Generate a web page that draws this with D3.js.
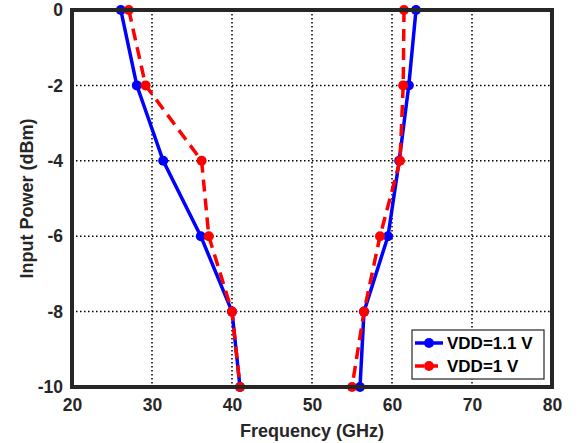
<!DOCTYPE html>
<html lang="en">
<head>
<meta charset="UTF-8">
<title>Input Power vs Frequency</title>
<script src="https://d3js.org/d3.v7.min.js"></script>
<style>
  body { margin: 0; background: #fff; font-family: "Liberation Sans", Arial, sans-serif; }
  .tick text { font-size: 17.5px; font-weight: bold; fill: #262626; }
  .lbl { font-size: 18px; font-weight: bold; fill: #262626; }
  .leg { font-size: 17px; font-weight: bold; fill: #000; }
</style>
</head>
<body>
<svg id="chart" width="579" height="443"></svg>
<script>
// input power levels (dBm)
const powerLevels = [0, -2, -4, -6, -8, -10];
// VDD = 1.1 V, lower and upper frequency edges (GHz)
const vdd11Low  = [26.1, 28.1, 31.4, 36.1, 40.0, 41.0];
const vdd11High = [63.0, 62.1, 60.9, 59.5, 56.5, 56.0];
// VDD = 1 V
const vdd1Low  = [27.1, 29.2, 36.2, 37.1, 40.0, 41.0];
const vdd1High = [61.5, 61.4, 61.0, 58.5, 56.5, 55.0];
const xTicks = [20, 30, 40, 50, 60, 70, 80];
const yTicks = [0, -2, -4, -6, -8, -10];

const svg = d3.select("#chart");
const margin = {top: 10, right: 27, bottom: 56, left: 72};
const W = 579, H = 443;
const x = d3.scaleLinear().domain([20, 80]).range([margin.left, W - margin.right]);
const y = d3.scaleLinear().domain([-10, 0]).range([H - margin.bottom, margin.top]);

// grid
const grid = svg.append("g");
grid.selectAll(".gx").data(xTicks.slice(1, -1)).enter().append("line")
  .attr("x1", d => x(d)).attr("x2", d => x(d))
  .attr("y1", y(0)).attr("y2", y(-10))
  .attr("stroke", "#000").attr("stroke-width", 1.5).attr("stroke-dasharray", "1.5,2.5");
grid.selectAll(".gy").data(yTicks.slice(1, -1)).enter().append("line")
  .attr("y1", d => y(d)).attr("y2", d => y(d))
  .attr("x1", x(20)).attr("x2", x(80))
  .attr("stroke", "#000").attr("stroke-width", 1.5).attr("stroke-dasharray", "1.5,2.5");

const series = [
  {name: "VDD=1.1 V", color: "#0000ff", dash: null, branches: [vdd11Low, vdd11High]},
  {name: "VDD=1 V", color: "#ff0000", dash: "12,7", branches: [vdd1Low, vdd1High]}
];

const line = d3.line().x(d => x(d[0])).y(d => y(d[1]));

series.forEach(s => {
  s.branches.forEach(b => {
    const pts = b.map((v, i) => [v, powerLevels[i]]);
    svg.append("path").datum(pts)
      .attr("d", line).attr("fill", "none")
      .attr("stroke", s.color).attr("stroke-width", 3.5)
      .attr("stroke-dasharray", s.dash);
    svg.selectAll(null).data(pts).enter().append("circle")
      .attr("cx", d => x(d[0])).attr("cy", d => y(d[1])).attr("r", 5)
      .attr("fill", s.color);
  });
});

// axes box
const axColor = "#262626";
svg.append("rect")
  .attr("x", x(20)).attr("y", y(0))
  .attr("width", x(80) - x(20)).attr("height", y(-10) - y(0))
  .attr("fill", "none").attr("stroke", axColor).attr("stroke-width", 4);

const fmt = d => String(d).replace("\u2212", "-");
const xAxis = svg.append("g").attr("transform", `translate(0,${y(-10)})`)
  .call(d3.axisBottom(x).tickValues(xTicks).tickSize(0).tickPadding(12).tickFormat(fmt));
xAxis.select(".domain").remove();

const yAxis = svg.append("g").attr("transform", `translate(${x(20)},0)`)
  .call(d3.axisLeft(y).tickValues(yTicks).tickSize(0).tickPadding(9).tickFormat(fmt));
yAxis.select(".domain").remove();

svg.append("text").attr("class", "lbl")
  .attr("x", (x(20) + x(80)) / 2).attr("y", 437)
  .attr("text-anchor", "middle").text("Frequency (GHz)");
svg.append("text").attr("class", "lbl")
  .attr("transform", `translate(33,${(y(0) + y(-10)) / 2}) rotate(-90)`)
  .attr("text-anchor", "middle").text("Input Power (dBm)");

// legend
const lg = svg.append("g").attr("transform", "translate(412,330)");
lg.append("rect").attr("width", 132).attr("height", 49)
  .attr("fill", "#fff").attr("stroke", axColor).attr("stroke-width", 1.2);
series.forEach((s, i) => {
  const yy = 13 + i * 23;
  lg.append("line").attr("x1", 3).attr("x2", 31).attr("y1", yy).attr("y2", yy)
    .attr("stroke", s.color).attr("stroke-width", 3.5).attr("stroke-dasharray", s.dash ? "9,5" : null);
  lg.append("circle").attr("cx", 17).attr("cy", yy).attr("r", 5).attr("fill", s.color);
  lg.append("text").attr("class", "leg").attr("x", 35).attr("y", yy + 6).text(s.name);
});
</script>
</body>
</html>
